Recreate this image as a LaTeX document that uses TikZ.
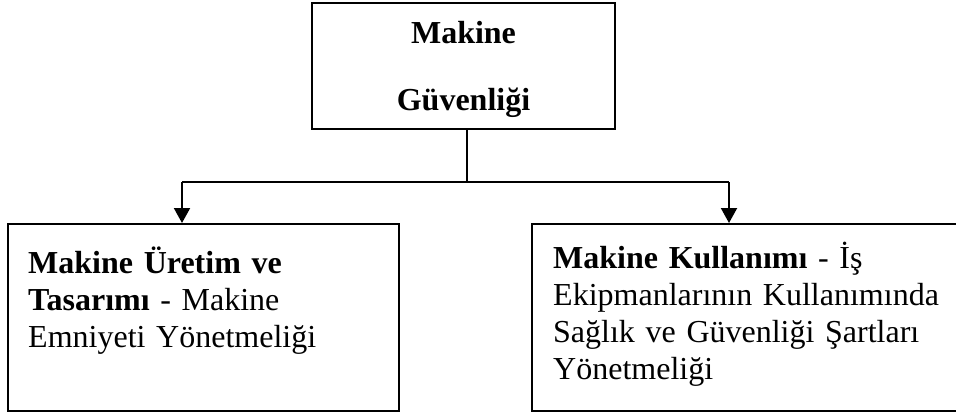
\documentclass[tikz,border=0pt]{standalone}
\usepackage{fontspec}
\setmainfont{Liberation Serif}
\usetikzlibrary{arrows.meta}

\tikzset{
  box/.style={draw=black, line width=2pt, inner sep=0pt},
  link/.style={draw=black, line width=2pt},
  drop/.style={link, -{Triangle[width=16pt,length=15pt]}},
  body/.style={anchor=base west, inner sep=0pt, align=left,
    font=\fontsize{32}{37}\selectfont},
}

\begin{document}
\begin{tikzpicture}[x=1pt, y=-1pt]
  \useasboundingbox (0,0) rectangle (956,416);
  \clip (0,0) rectangle (956,416);

  % boxes
  \node[box, minimum width=303pt, minimum height=126pt] (top) at (463.5,66) {};
  \node[box, minimum width=391pt, minimum height=187pt] (left) at (203.5,317.5) {};
  \node[box, minimum width=430pt, minimum height=187pt] (right) at (747,317.5) {};

  % titles
  \node[anchor=base, inner sep=0pt, text width=300pt, align=center,
        font=\fontsize{32}{67}\selectfont\bfseries] (toptext) at (463.5,43)
        {Makine\\Güvenliği};
  \node[body, text width=370pt] (lefttext) at (28,273)
        {\textbf{Makine Üretim ve}\\\textbf{Tasarımı} - Makine\\Emniyeti Yönetmeliği};
  \node[body, text width=400pt] (righttext) at (553,268)
        {\textbf{Makine Kullanımı} - İş\\Ekipmanlarının Kullanımında\\Sağlık ve Güvenliği Şartları\\Yönetmeliği};

  % connectors
  \coordinate (j) at (467,182);
  \coordinate (aL) at (182,182);
  \coordinate (aR) at (729,182);
  \draw[link] (top.south -| j) -- (j);
  \draw[link] (aL) -- (aR);
  \draw[drop] (aL) -- (aL |- left.north);
  \draw[drop] (aR) -- (aR |- right.north);
\end{tikzpicture}
\end{document}
